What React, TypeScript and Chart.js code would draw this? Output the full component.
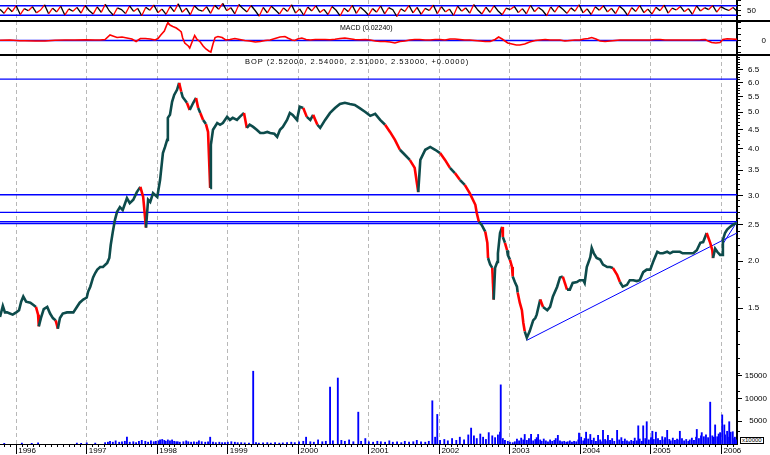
import React, { useEffect, useRef } from 'react';
import { Chart, registerables } from 'chart.js';

Chart.register(...registerables);

const FONT = "'Liberation Sans', Arial, Helvetica, sans-serif";
const TEAL = '#0d4b4b';
const RED = '#ff0000';
const BLUE = '#0000ff';
const GRID = '#b8b8b8';

const X_MIN = 1995.77;
const X_MAX = 2006.22;

const yearTicks = [1996, 1997, 1998, 1999, 2000, 2001, 2002, 2003, 2004, 2005, 2006];

// ---- price (close) ----
const priceDates = [
  1995.77, 1995.81, 1995.84, 1995.87, 1995.91, 1995.95, 1996.0, 1996.04, 1996.07, 1996.1,
  1996.14, 1996.2, 1996.24, 1996.28, 1996.31, 1996.32, 1996.35, 1996.39, 1996.44, 1996.48,
  1996.52, 1996.56, 1996.59, 1996.62, 1996.66, 1996.72, 1996.81, 1996.86, 1996.9, 1996.95,
  1997.0, 1997.02, 1997.05, 1997.07, 1997.09, 1997.12, 1997.15, 1997.19, 1997.23, 1997.29,
  1997.32, 1997.34, 1997.37, 1997.4, 1997.43, 1997.47, 1997.51, 1997.57, 1997.61, 1997.66,
  1997.71, 1997.76, 1997.8, 1997.84, 1997.87, 1997.9, 1997.94, 1998.0, 1998.04, 1998.08,
  1998.11, 1998.14, 1998.15, 1998.18, 1998.21, 1998.24, 1998.28, 1998.31, 1998.34, 1998.36,
  1998.42, 1998.46, 1998.51, 1998.55, 1998.58, 1998.61, 1998.65, 1998.69, 1998.72, 1998.75,
  1998.76, 1998.79, 1998.85, 1998.89, 1998.93, 1998.99, 1999.03, 1999.07, 1999.13, 1999.17,
  1999.23, 1999.27, 1999.31, 1999.36, 1999.41, 1999.46, 1999.51, 1999.56, 1999.6, 1999.66,
  1999.7, 1999.74, 1999.78, 1999.84, 1999.88, 1999.92, 1999.98, 2000.02, 2000.07, 2000.12,
  2000.17, 2000.21, 2000.27, 2000.31, 2000.38, 2000.45, 2000.52, 2000.59, 2000.66, 2000.73,
  2000.8, 2000.87, 2000.95, 2001.02, 2001.09, 2001.16, 2001.23, 2001.3, 2001.37, 2001.44,
  2001.51, 2001.58, 2001.65, 2001.7, 2001.73, 2001.8, 2001.87, 2001.94, 2002.01, 2002.08,
  2002.15, 2002.22, 2002.29, 2002.36, 2002.43, 2002.51, 2002.53, 2002.56, 2002.6, 2002.65,
  2002.68, 2002.69, 2002.72, 2002.75, 2002.77, 2002.79, 2002.82, 2002.83, 2002.86, 2002.89,
  2002.9, 2002.93, 2002.96, 2002.97, 2003.0, 2003.03, 2003.04, 2003.07, 2003.1, 2003.11,
  2003.14, 2003.17, 2003.19, 2003.21, 2003.24, 2003.28, 2003.33, 2003.36, 2003.38, 2003.43,
  2003.47, 2003.53, 2003.57, 2003.61, 2003.67, 2003.71, 2003.75, 2003.81, 2003.85, 2003.89,
  2003.95, 2003.99, 2004.04, 2004.06, 2004.09, 2004.14, 2004.16, 2004.19, 2004.23, 2004.28,
  2004.32, 2004.38, 2004.42, 2004.46, 2004.52, 2004.56, 2004.6, 2004.66, 2004.7, 2004.75,
  2004.8, 2004.84, 2004.89, 2004.94, 2004.99, 2005.03, 2005.09, 2005.13, 2005.17, 2005.23,
  2005.27, 2005.31, 2005.37, 2005.41, 2005.45, 2005.51, 2005.55, 2005.6, 2005.65, 2005.7,
  2005.74, 2005.79, 2005.84, 2005.87, 2005.88, 2005.91, 2005.94, 2005.98, 2006.01, 2006.02,
  2006.05, 2006.08, 2006.12, 2006.16, 2006.19, 2006.22,
];
const priceCloses = [
  1.42, 1.52, 1.46, 1.46, 1.45, 1.44, 1.46, 1.48, 1.56, 1.61,
  1.56, 1.55, 1.53, 1.51, 1.44, 1.34, 1.41, 1.49, 1.51, 1.45,
  1.41, 1.39, 1.32, 1.41, 1.45, 1.46, 1.46, 1.51, 1.55, 1.58,
  1.6, 1.66, 1.71, 1.76, 1.81, 1.86, 1.9, 1.93, 1.93, 1.98,
  2.04, 2.21, 2.4, 2.58, 2.71, 2.79, 2.74, 2.95, 2.86, 2.92,
  3.06, 3.16, 2.97, 2.46, 2.92, 2.88, 3.04, 2.97, 3.3, 3.89,
  4.04, 4.22, 4.83, 4.92, 5.33, 5.56, 5.74, 5.99, 5.67, 5.49,
  5.3, 5.07, 5.3, 5.46, 5.13, 4.98, 4.77, 4.65, 4.43, 3.14,
  4.09, 4.49, 4.68, 4.63, 4.68, 4.86, 4.77, 4.83, 4.77, 4.86,
  4.98, 4.54, 4.63, 4.57, 4.49, 4.4, 4.4, 4.43, 4.4, 4.38,
  4.3, 4.49, 4.57, 4.77, 4.98, 4.92, 4.77, 5.17, 5.13, 4.86,
  4.77, 4.92, 4.63, 4.54, 4.77, 4.98, 5.13, 5.26, 5.3, 5.26,
  5.23, 5.13, 5.01, 4.89, 4.95, 4.77, 4.63, 4.43, 4.22, 3.97,
  3.85, 3.73, 3.55, 3.06, 3.73, 3.97, 4.04, 3.97, 3.89, 3.73,
  3.55, 3.44, 3.3, 3.2, 3.04, 2.83, 2.69, 2.55, 2.5, 2.4,
  2.24, 2.04, 1.96, 1.92, 1.58, 1.92, 1.99, 2.1, 2.38, 2.47,
  2.32, 2.24, 2.14, 2.08, 2.02, 1.93, 1.82, 1.76, 1.71, 1.65,
  1.55, 1.48, 1.37, 1.3, 1.25, 1.3, 1.39, 1.41, 1.44, 1.58,
  1.51, 1.48, 1.51, 1.61, 1.71, 1.81, 1.82, 1.68, 1.68, 1.75,
  1.76, 1.78, 1.78, 1.75, 1.93, 2.05, 2.17, 2.1, 2.04, 2.02,
  1.96, 1.93, 1.93, 1.92, 1.84, 1.76, 1.71, 1.73, 1.78, 1.78,
  1.77, 1.78, 1.87, 1.9, 1.9, 1.99, 2.12, 2.1, 2.1, 2.12,
  2.1, 2.12, 2.12, 2.12, 2.1, 2.1, 2.1, 2.1, 2.14, 2.24,
  2.25, 2.38, 2.24, 2.14, 2.04, 2.16, 2.12, 2.08, 2.08, 2.28,
  2.38, 2.43, 2.47, 2.5, 2.52, 2.53,
];
const priceLabelValues = [1.5, 2.0, 2.5, 3.0, 3.5, 4.0, 4.5, 5.0, 5.5, 6.0, 6.5];
const PRICE_MIN = 0.65;
const PRICE_MAX = 7.11;
const priceLevels = [6.13, 3.01, 2.7, 2.55, 2.52];
const trendStartDates = [2003.24, 2006.01];
const trendStartPrices = [1.23, 2.21];
const trendEndDates = [2006.22, 2006.22];
const trendEndPrices = [2.38, 2.55];

// ---- volume ----
const volumeDates = [
  1995.83, 1996.08, 1996.22, 1996.31, 1996.86, 1996.92, 1997.0, 1997.12, 1997.26, 1997.3,
  1997.33, 1997.37, 1997.41, 1997.46, 1997.5, 1997.54, 1997.57, 1997.61, 1997.66, 1997.7,
  1997.74, 1997.78, 1997.83, 1997.87, 1997.91, 1997.95, 1997.98, 1998.02, 1998.04, 1998.07,
  1998.1, 1998.12, 1998.15, 1998.18, 1998.21, 1998.24, 1998.27, 1998.29, 1998.32, 1998.37,
  1998.41, 1998.44, 1998.48, 1998.52, 1998.56, 1998.59, 1998.63, 1998.68, 1998.72, 1998.75,
  1998.79, 1998.83, 1998.88, 1998.92, 1998.96, 1999.0, 1999.05, 1999.1, 1999.14, 1999.19,
  1999.24, 1999.3, 1999.36, 1999.4, 1999.44, 1999.5, 1999.56, 1999.61, 1999.67, 1999.73,
  1999.78, 1999.84, 1999.9, 1999.95, 2000.01, 2000.07, 2000.11, 2000.17, 2000.22, 2000.28,
  2000.34, 2000.39, 2000.45, 2000.49, 2000.56, 2000.61, 2000.66, 2000.72, 2000.78, 2000.85,
  2000.89, 2000.95, 2001.0, 2001.06, 2001.12, 2001.17, 2001.23, 2001.29, 2001.34, 2001.4,
  2001.46, 2001.51, 2001.57, 2001.63, 2001.68, 2001.74, 2001.8, 2001.85, 2001.9, 2001.94,
  2001.97, 2002.01, 2002.07, 2002.12, 2002.18, 2002.24, 2002.29, 2002.35, 2002.41, 2002.45,
  2002.49, 2002.53, 2002.58, 2002.62, 2002.66, 2002.7, 2002.75, 2002.79, 2002.83, 2002.86,
  2002.87, 2002.9, 2002.93, 2002.97, 2003.0, 2003.04, 2003.07, 2003.1, 2003.13, 2003.16,
  2003.19, 2003.21, 2003.24, 2003.27, 2003.3, 2003.33, 2003.36, 2003.38, 2003.4, 2003.43,
  2003.45, 2003.48, 2003.51, 2003.54, 2003.57, 2003.6, 2003.63, 2003.65, 2003.68, 2003.71,
  2003.74, 2003.77, 2003.8, 2003.82, 2003.85, 2003.88, 2003.91, 2003.94, 2003.97, 2003.98,
  2004.01, 2004.04, 2004.06, 2004.08, 2004.11, 2004.14, 2004.16, 2004.19, 2004.22, 2004.25,
  2004.28, 2004.29, 2004.32, 2004.35, 2004.38, 2004.39, 2004.42, 2004.45, 2004.48, 2004.52,
  2004.55, 2004.58, 2004.6, 2004.63, 2004.66, 2004.69, 2004.72, 2004.75, 2004.77, 2004.8,
  2004.82, 2004.84, 2004.87, 2004.89, 2004.92, 2004.94, 2004.97, 2005.0, 2005.02, 2005.04,
  2005.07, 2005.1, 2005.13, 2005.16, 2005.19, 2005.2, 2005.23, 2005.26, 2005.28, 2005.31,
  2005.34, 2005.37, 2005.4, 2005.41, 2005.44, 2005.47, 2005.5, 2005.53, 2005.55, 2005.58,
  2005.61, 2005.64, 2005.65, 2005.68, 2005.71, 2005.72, 2005.75, 2005.78, 2005.81, 2005.84,
  2005.87, 2005.89, 2005.91, 2005.94, 2005.96, 2005.98, 2006.01, 2006.04, 2006.05, 2006.08,
  2006.09, 2006.11, 2006.13, 2006.16, 2006.18, 2006.19, 2006.21,
];
const volumeValues = [
  150, 200, 150, 250, 200, 150, 250, 200, 300, 400,
  600, 400, 700, 400, 500, 600, 1500, 400, 500, 300,
  600, 800, 600, 400, 700, 500, 600, 700, 900, 1000,
  800, 600, 900, 700, 900, 600, 500, 500, 400, 500,
  700, 500, 400, 500, 400, 700, 500, 400, 500, 1500,
  400, 300, 400, 300, 300, 400, 500, 400, 300, 300,
  250, 200, 16000, 300, 200, 250, 300, 200, 300, 200,
  250, 300, 400, 300, 500, 600, 1500, 500, 400, 900,
  500, 600, 12500, 700, 14500, 800, 600, 900, 500, 7000,
  600, 1200, 500, 400, 600, 500, 400, 700, 400, 500,
  300, 600, 400, 500, 800, 500, 400, 600, 9500, 1500,
  6500, 800, 1000, 700, 1200, 800, 1500, 900, 2000, 3500,
  1800, 1200, 2200, 1500, 1000, 2500, 1800, 1400, 2000, 2600,
  13000, 1200, 800, 600, 400, 300, 500, 1100, 700, 1300,
  900, 2100, 800, 1200, 2100, 700, 1000, 1400, 2100, 900,
  600, 1100, 700, 500, 900, 600, 800, 1200, 1900, 700,
  500, 600, 400, 500, 700, 400, 600, 500, 900, 2400,
  1500, 700, 1200, 2600, 1100, 2100, 800, 1300, 600, 1900,
  900, 500, 3000, 1000, 700, 1900, 800, 1200, 600, 3000,
  900, 1400, 600, 1100, 700, 500, 800, 600, 1300, 700,
  4000, 1100, 600, 4000, 1200, 4900, 900, 1400, 2800, 1000,
  2600, 1200, 800, 1600, 900, 1400, 3000, 1000, 700, 1300,
  800, 1100, 900, 2800, 1200, 700, 1000, 600, 900, 1300,
  800, 1500, 3200, 1200, 1800, 2500, 1600, 2000, 1400, 9200,
  1800, 1500, 4200, 1600, 2200, 2500, 6400, 4200, 2000, 2800,
  1500, 4900, 2600, 2700, 1200, 1500, 900,
];
const volumeLabelValues = [5000, 10000, 15000];
const VOLUME_MAX = 85500;

// ---- MACD ----
const macdDates = [
  1995.77, 1995.91, 1996.05, 1996.12, 1996.27, 1996.41, 1996.55, 1996.69, 1996.83, 1996.98,
  1997.12, 1997.19, 1997.26, 1997.33, 1997.37, 1997.43, 1997.5, 1997.57, 1997.64, 1997.7,
  1997.76, 1997.83, 1997.9, 1997.97, 1998.01, 1998.05, 1998.1, 1998.14, 1998.15, 1998.18,
  1998.22, 1998.27, 1998.31, 1998.34, 1998.36, 1998.39, 1998.44, 1998.46, 1998.51, 1998.53,
  1998.56, 1998.61, 1998.65, 1998.69, 1998.73, 1998.76, 1998.79, 1998.82, 1998.86, 1998.92,
  1998.97, 1999.03, 1999.1, 1999.17, 1999.24, 1999.31, 1999.39, 1999.46, 1999.53, 1999.6,
  1999.67, 1999.74, 1999.81, 1999.85, 1999.91, 1999.95, 1999.99, 2000.05, 2000.11, 2000.17,
  2000.24, 2000.31, 2000.38, 2000.45, 2000.52, 2000.59, 2000.66, 2000.73, 2000.8, 2000.87,
  2000.95, 2001.02, 2001.09, 2001.16, 2001.23, 2001.3, 2001.37, 2001.44, 2001.51, 2001.58,
  2001.65, 2001.72, 2001.8, 2001.87, 2001.94, 2002.01, 2002.08, 2002.15, 2002.22, 2002.29,
  2002.36, 2002.43, 2002.5, 2002.58, 2002.65, 2002.72, 2002.79, 2002.84, 2002.89, 2002.93,
  2002.97, 2003.03, 2003.09, 2003.14, 2003.21, 2003.28, 2003.36, 2003.43, 2003.5, 2003.57,
  2003.64, 2003.71, 2003.78, 2003.85, 2003.92, 2003.99, 2004.05, 2004.11, 2004.16, 2004.22,
  2004.28, 2004.35, 2004.42, 2004.49, 2004.56, 2004.7, 2004.84, 2004.99, 2005.06, 2005.13,
  2005.2, 2005.27, 2005.41, 2005.55, 2005.7, 2005.77, 2005.81, 2005.86, 2005.92, 2005.98,
  2006.02, 2006.08, 2006.15, 2006.22,
];
const macdValues = [
  0.004, 0.01, -0.006, -0.006, -0.01, -0.01, 0.004, 0.01, 0.01, 0.016,
  0.01, 0.01, 0.02, 0.11, 0.09, 0.06, 0.07, 0.05, 0.03, -0.02,
  0.04, 0.04, 0.03, 0.01, 0.04, 0.11, 0.19, 0.33, 0.36, 0.31,
  0.28, 0.25, 0.21, 0.17, 0.05, -0.05, -0.11, -0.15, 0.03, 0.1,
  0.03, -0.03, -0.11, -0.17, -0.21, -0.23, -0.07, 0.06, 0.08, 0.06,
  0.01, 0.02, 0.04, 0.02, 0.0, -0.01, -0.03, -0.02, 0.0, 0.01,
  0.04, 0.07, 0.08, 0.05, 0.01, 0.0, 0.03, 0.05, 0.02, 0.01,
  0.02, 0.02, 0.02, 0.016, 0.026, 0.04, 0.05, 0.036, 0.02, 0.016,
  0.02, 0.01, -0.01, -0.02, -0.02, -0.03, -0.05, -0.02, -0.01, 0.01,
  0.02, 0.02, 0.01, 0.01, 0.02, 0.02, 0.01, 0.03, 0.03, 0.02,
  0.01, 0.01, 0.0, -0.01, -0.02, -0.02, 0.02, 0.07, 0.03, -0.01,
  -0.05, -0.07, -0.09, -0.09, -0.07, -0.03, 0.0, 0.01, 0.02, 0.01,
  0.01, 0.01, -0.01, 0.0, 0.01, 0.01, 0.03, 0.04, 0.06, 0.03,
  -0.01, -0.02, -0.01, 0.0, 0.01, 0.01, 0.01, 0.01, 0.02, 0.02,
  0.01, 0.01, 0.01, 0.01, 0.014, 0.02, -0.01, -0.04, -0.05, -0.04,
  0.02, 0.034, 0.03, 0.0224,
];
const macdTickValues = [-0.24, -0.12, 0, 0.12, 0.24, 0.36];
const MACD_MIN = -0.29;
const MACD_MAX = 0.39;

// ---- RSI (oscillator in top panel) ----
const rsiValues = [
  55, 38, 62, 45, 70, 33, 58, 49, 66, 40,
  52, 74, 36, 60, 44, 68, 31, 57, 47, 63,
  39, 71, 50, 35, 65, 42, 76, 48, 30, 61,
  54, 37, 69, 46, 59, 28, 64, 51, 73, 41,
  56, 34, 67, 45, 78, 43, 60, 32, 70, 53,
  47, 66, 38, 72, 55, 80, 49, 62, 36, 75,
  58, 44, 71, 50, 26, 63, 40, 68, 52, 35,
  61, 46, 74, 39, 57, 30, 65, 48, 70, 42,
  55, 33, 67, 51, 27, 60, 45, 72, 38, 64,
  49, 31, 58, 43, 69, 36, 62, 53, 25, 57,
  46, 71, 40, 63, 34, 59, 50, 73, 37, 66,
  44, 56, 29, 68, 47, 61, 39, 75, 52, 35,
  64, 42, 70, 48, 32, 60, 54, 67, 41, 58,
  36, 72, 45, 63, 50, 28, 65, 43, 69, 55,
  38, 61, 47, 74, 40, 57, 33, 66, 51, 70,
  44, 59, 37, 68, 53, 30, 62, 46, 71, 41,
  56, 35, 64, 49, 73, 39, 60, 52, 67, 45,
  58, 34, 69, 48, 62, 54, 71, 43, 66, 57,
  50, 63, 47,
];
const rsiLevels = [70, 30];
const rsiTickValues = [10, 30, 50, 70, 90];
const RSI_MIN = 6;
const RSI_MAX = 94;

// ---------- helpers ----------
const noPad = (s: any) => {
  s.paddingTop = 0;
  s.paddingBottom = 0;
  s.paddingLeft = 0;
  s.paddingRight = 0;
};

const setTicks = (vals: number[]) => (s: any) => {
  s.ticks = vals.map((v) => ({ value: v }));
};

function monthTicks(): number[] {
  const out: number[] = [];
  for (let y = 1995; y <= 2006; y++) {
    for (let m = 0; m < 12; m++) {
      const v = y + m / 12;
      if (v > X_MIN && v < X_MAX) out.push(v);
    }
  }
  return out;
}

function minorPriceTicks(): number[] {
  const out: number[] = [];
  for (let i = 7; i <= 70; i++) out.push(i / 10);
  return out;
}

function gridOnlyX(): any {
  return {
    type: 'linear',
    position: 'bottom',
    min: X_MIN,
    max: X_MAX,
    offset: false,
    afterBuildTicks: setTicks(yearTicks),
    ticks: { display: false },
    grid: { offset: false, drawOnChartArea: true, drawTicks: false, color: GRID, lineWidth: 1 },
    border: { display: false, dash: [4, 3] },
    afterFit: (s: any) => {
      s.height = 0;
      noPad(s);
    },
  };
}

const baseOptions = (): any => ({
  animation: false,
  responsive: false,
  maintainAspectRatio: false,
  events: [],
  layout: { padding: 0, autoPadding: false },
  plugins: { legend: { display: false }, tooltip: { enabled: false }, title: { display: false } },
});

const tickFont = { family: FONT, size: 8 };

function hLine(level: number, axisId: string, color: string, width: number): any {
  return {
    type: 'line',
    data: [
      { x: X_MIN, y: level },
      { x: X_MAX, y: level },
    ],
    yAxisID: axisId,
    borderColor: color,
    borderWidth: width,
    pointRadius: 0,
    tension: 0,
    order: 5,
  };
}

export default function App() {
  const rsiRef = useRef<HTMLCanvasElement>(null);
  const macdRef = useRef<HTMLCanvasElement>(null);
  const mainRef = useRef<HTMLCanvasElement>(null);

  useEffect(() => {
    Chart.defaults.font.family = FONT;
    Chart.defaults.font.size = 8;
    Chart.defaults.color = '#000';
    const charts: any[] = [];

    // ---------- RSI panel ----------
    const rsiStep = (X_MAX - X_MIN) / (rsiValues.length - 1);
    charts.push(
      new Chart(rsiRef.current as HTMLCanvasElement, {
        type: 'line',
        data: {
          datasets: [
            {
              data: rsiValues.map((v, i) => ({ x: X_MIN + i * rsiStep, y: v })),
              borderColor: '#000',
              borderWidth: 1.3,
              pointRadius: 0,
              tension: 0,
              order: 0,
              segment: {
                borderColor: (c: any) => (c.p1.parsed.y > c.p0.parsed.y ? RED : '#000'),
              },
            } as any,
            ...rsiLevels.map((l) => hLine(l, 'y', BLUE, 1.3)),
          ],
        },
        options: {
          ...baseOptions(),
          scales: {
            x: gridOnlyX(),
            y: {
              type: 'linear',
              position: 'right',
              min: RSI_MIN,
              max: RSI_MAX,
              afterBuildTicks: setTicks(rsiTickValues),
              ticks: {
                autoSkip: false,
                padding: 6,
                font: tickFont,
                color: '#000',
                callback: (v: any) => (v === 50 ? '50' : ''),
              },
              grid: { drawOnChartArea: false, drawTicks: true, tickLength: 4, tickColor: '#000' },
              border: { display: true, color: '#000', width: 2 },
              afterFit: (s: any) => {
                s.width = 33;
                noPad(s);
              },
            },
          },
        } as any,
      })
    );

    // ---------- MACD panel ----------
    charts.push(
      new Chart(macdRef.current as HTMLCanvasElement, {
        type: 'line',
        data: {
          datasets: [
            {
              data: macdDates.map((d, i) => ({ x: d, y: macdValues[i] })),
              borderColor: RED,
              borderWidth: 1.6,
              pointRadius: 0,
              tension: 0,
              order: 0,
            } as any,
            hLine(0, 'y', BLUE, 1.4),
          ],
        },
        options: {
          ...baseOptions(),
          scales: {
            x: gridOnlyX(),
            y: {
              type: 'linear',
              position: 'right',
              min: MACD_MIN,
              max: MACD_MAX,
              afterBuildTicks: setTicks(macdTickValues),
              ticks: {
                autoSkip: false,
                mirror: true,
                padding: 29,
                font: tickFont,
                color: '#000',
                callback: (v: any) => (v === 0 ? '0' : ''),
              },
              grid: { drawOnChartArea: false, drawTicks: true, tickLength: 4, tickColor: '#000' },
              border: { display: true, color: '#000', width: 2 },
              afterFit: (s: any) => {
                s.width = 33;
                noPad(s);
              },
            },
          },
        } as any,
      })
    );

    // ---------- Main price + volume panel ----------
    const trendSets = trendStartDates.map((d, i) => ({
      type: 'line',
      data: [
        { x: d, y: trendStartPrices[i] },
        { x: trendEndDates[i], y: trendEndPrices[i] },
      ],
      yAxisID: 'yPrice',
      borderColor: BLUE,
      borderWidth: 1,
      pointRadius: 0,
      tension: 0,
      order: 2,
    }));

    charts.push(
      new Chart(mainRef.current as HTMLCanvasElement, {
        type: 'line',
        data: {
          datasets: [
            {
              type: 'line',
              data: priceDates.map((d, i) => ({ x: d, y: priceCloses[i] })),
              yAxisID: 'yPrice',
              borderColor: TEAL,
              borderWidth: 2.6,
              pointRadius: 0,
              tension: 0,
              order: 0,
              segment: {
                borderColor: (c: any) => (c.p1.parsed.y < c.p0.parsed.y * 0.96 ? RED : TEAL),
              },
            } as any,
            ...(trendSets as any[]),
            ...priceLevels.map((l) => hLine(l, 'yPrice', BLUE, 1.3)),
            {
              type: 'bar',
              data: volumeDates.map((d, i) => ({ x: d, y: volumeValues[i] })),
              yAxisID: 'yVol',
              backgroundColor: BLUE,
              borderWidth: 0,
              barThickness: 1.2,
              grouped: false,
              order: 8,
            } as any,
          ],
        },
        options: {
          ...baseOptions(),
          scales: {
            xm: {
              type: 'linear',
              position: 'bottom',
              weight: 0,
              min: X_MIN,
              max: X_MAX,
              offset: false,
              afterBuildTicks: setTicks(monthTicks()),
              ticks: { display: false },
              grid: {
                offset: false,
                drawOnChartArea: false,
                drawTicks: true,
                tickLength: 3,
                tickColor: '#000',
                tickWidth: 1,
              },
              border: { display: false },
              afterFit: (s: any) => {
                s.height = 0;
                noPad(s);
              },
            },
            x: {
              type: 'linear',
              position: 'bottom',
              weight: 1,
              min: X_MIN,
              max: X_MAX,
              offset: false,
              afterBuildTicks: setTicks(yearTicks),
              ticks: {
                display: true,
                autoSkip: false,
                maxRotation: 0,
                minRotation: 0,
                align: 'start',
                labelOffset: 2,
                padding: -8,
                font: tickFont,
                color: '#000',
                callback: (v: any) => String(v),
              },
              grid: {
                offset: false,
                drawOnChartArea: true,
                drawTicks: true,
                tickLength: 10,
                color: GRID,
                tickColor: '#000',
                tickWidth: 1,
                tickBorderDash: [],
              },
              border: { display: true, color: '#000', width: 1, dash: [4, 3] },
              afterFit: (s: any) => {
                s.height = 11;
                noPad(s);
              },
            },
            yVol: {
              type: 'linear',
              position: 'right',
              weight: 0,
              min: 0,
              max: VOLUME_MAX,
              beginAtZero: true,
              afterBuildTicks: setTicks(volumeLabelValues),
              ticks: {
                autoSkip: false,
                mirror: true,
                padding: 30,
                font: tickFont,
                color: '#000',
                callback: (v: any) => String(v),
              },
              grid: { drawOnChartArea: false, drawTicks: true, tickLength: 5, tickColor: '#000' },
              border: { display: false },
              afterFit: (s: any) => {
                s.width = 0;
                noPad(s);
              },
            },
            yMinor: {
              type: 'logarithmic',
              position: 'right',
              weight: 1,
              min: PRICE_MIN,
              max: PRICE_MAX,
              afterBuildTicks: setTicks(minorPriceTicks()),
              ticks: { display: false },
              grid: { drawOnChartArea: false, drawTicks: true, tickLength: 3, tickColor: '#000' },
              border: { display: false },
              afterFit: (s: any) => {
                s.width = 0;
                noPad(s);
              },
            },
            yPrice: {
              type: 'logarithmic',
              position: 'right',
              weight: 2,
              min: PRICE_MIN,
              max: PRICE_MAX,
              afterBuildTicks: setTicks(priceLabelValues),
              ticks: {
                autoSkip: false,
                padding: 5,
                font: tickFont,
                color: '#000',
                callback: (v: any) => Number(v).toFixed(1),
              },
              grid: { drawOnChartArea: false, drawTicks: true, tickLength: 6, tickColor: '#000' },
              border: { display: true, color: '#000', width: 2 },
              afterFit: (s: any) => {
                s.width = 33;
                noPad(s);
              },
            },
          },
        } as any,
      })
    );

    return () => {
      charts.forEach((c) => c.destroy());
    };
  }, []);

  const label: React.CSSProperties = {
    position: 'absolute',
    fontFamily: FONT,
    fontSize: 7,
    lineHeight: '7px',
    color: '#000',
    whiteSpace: 'nowrap',
  };

  return (
    <div
      style={{
        position: 'fixed',
        left: 0,
        top: 0,
        width: 770,
        height: 455,
        background: '#fff',
        overflow: 'hidden',
      }}
    >
      <canvas
        ref={rsiRef}
        width={770}
        height={21}
        style={{ position: 'absolute', left: 0, top: 0, width: 770, height: 21 }}
      />
      <canvas
        ref={macdRef}
        width={770}
        height={34}
        style={{ position: 'absolute', left: 0, top: 21, width: 770, height: 34 }}
      />
      <canvas
        ref={mainRef}
        width={770}
        height={400}
        style={{ position: 'absolute', left: 0, top: 55, width: 770, height: 400 }}
      />
      <div style={{ position: 'absolute', left: 0, top: 20, width: 770, height: 2, background: '#000' }} />
      <div style={{ position: 'absolute', left: 0, top: 54, width: 770, height: 2, background: '#000' }} />
      <div style={{ ...label, left: 340, top: 24 }}>MACD (0.02240)</div>
      <div style={{ ...label, left: 245, top: 58, fontSize: 7.5, letterSpacing: '1px' }}>
        BOP (2.52000, 2.54000, 2.51000, 2.53000, +0.0000)
      </div>
      <div
        style={{
          ...label,
          left: 740,
          top: 437,
          fontSize: 6,
          lineHeight: '5px',
          border: '1px solid #000',
          padding: '0 1px',
          background: '#fff',
        }}
      >
        x10000
      </div>
    </div>
  );
}
